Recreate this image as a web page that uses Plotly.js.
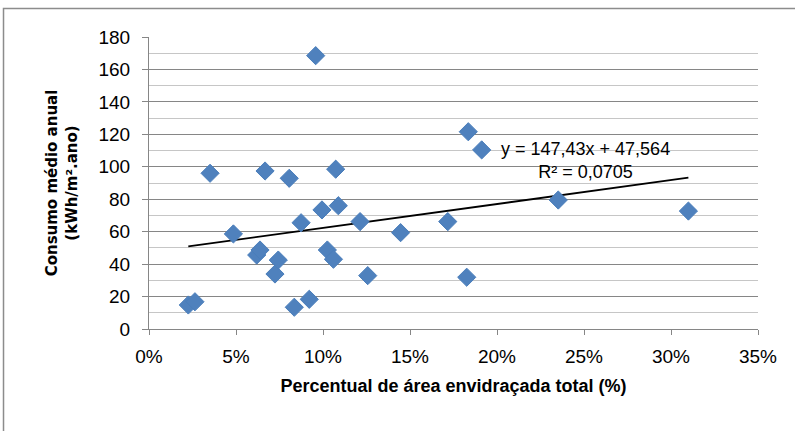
<!DOCTYPE html>
<html>
<head>
<meta charset="utf-8">
<script src="https://cdn.plot.ly/plotly-3.0.1.min.js"></script>
<style>html,body{margin:0;padding:0;background:#fff;}#chart{width:795px;height:431px;}</style>
</head>
<body>
<div id="chart"></div>
<script>
// Percentual de área envidraçada total (fraction)
const areaEnvidracada = [0.0226, 0.0264, 0.0351, 0.0485, 0.0619, 0.0638, 0.0667, 0.0724, 0.0743, 0.0806,
  0.0835, 0.0874, 0.0921, 0.0958, 0.0994, 0.1025, 0.1060, 0.1073, 0.1088, 0.1213,
  0.1257, 0.1446, 0.1717, 0.1835, 0.1826, 0.1912, 0.2352, 0.3100];
// Consumo médio anual (kWh/m².ano)
const consumoAnual = [14.8, 16.8, 96.0, 58.6, 45.6, 48.7, 97.4, 33.9, 42.5, 92.9,
  13.4, 65.5, 18.3, 168.5, 73.4, 48.7, 43.0, 98.5, 76.0, 66.2,
  32.9, 59.4, 66.2, 121.6, 31.9, 110.4, 79.5, 72.7];
// Linear trendline printed on the chart
const trendSlope = 147.43;
const trendIntercept = 47.564;
const trendLabel = "y = 147,43x + 47,564<br>R² = 0,0705";

const xMin = Math.min(...areaEnvidracada);
const xMax = Math.max(...areaEnvidracada);
const trendX = [xMin, xMax];
const trendY = trendX.map(v => trendSlope * v + trendIntercept);

const tickFont = {family: 'Liberation Sans, Arial, sans-serif', size: 19, color: '#000'};

const data = [
  {
    type: 'scatter', mode: 'lines', x: trendX, y: trendY,
    line: {color: '#000', width: 1.8}, hoverinfo: 'skip', showlegend: false
  },
  {
    type: 'scatter', mode: 'markers', x: areaEnvidracada, y: consumoAnual,
    marker: {symbol: 'diamond', size: 14, color: '#4F81BD', line: {color: '#4A7EBB', width: 1}},
    showlegend: false
  }
];

const layout = {
  width: 795, height: 431,
  margin: {l: 149, r: 37, t: 37, b: 102},
  paper_bgcolor: '#fff', plot_bgcolor: '#fff',
  font: tickFont,
  xaxis: {
    range: [0, 0.35], dtick: 0.05, tick0: 0, tickformat: '.0%',
    showgrid: false, zeroline: false,
    showline: true, linecolor: '#868686', linewidth: 1,
    ticks: 'outside', ticklen: 5, tickcolor: '#868686', tickwidth: 1,
    ticklabelstandoff: 5,
    tickfont: tickFont,
    title: {text: 'Percentual de área envidraçada total (%)', font: {family: 'Liberation Sans, Arial, sans-serif', size: 18, color: '#000', weight: 'bold'}, standoff: 13}
  },
  yaxis: {
    range: [0, 180], dtick: 20, tick0: 0,
    showgrid: true, gridcolor: '#868686', gridwidth: 1,
    minor: {dtick: 10, showgrid: true, gridcolor: '#C6C6C6', gridwidth: 1, ticks: ''},
    zeroline: false,
    showline: true, linecolor: '#868686', linewidth: 1,
    ticks: 'outside', ticklen: 6, tickcolor: '#868686', tickwidth: 1,
    ticklabelstandoff: 8,
    tickfont: tickFont,
    title: {text: 'Consumo médio anual<br>(kWh/m².ano)', font: {family: 'DejaVu Sans, Verdana, sans-serif', size: 15, color: '#000', weight: 'bold'}, standoff: 17}
  },
  annotations: [
    {
      xref: 'x', yref: 'y', x: 0.2506, y: 103.8, text: trendLabel, showarrow: false,
      align: 'center', xanchor: 'center', yanchor: 'middle',
      font: {family: 'Liberation Sans, Arial, sans-serif', size: 18, color: '#000'}
    }
  ],
  shapes: [
    {type: 'rect', xref: 'paper', yref: 'paper', x0: -0.2389, x1: 1.07, y0: -0.38, y1: 1.098,
     line: {color: '#8C8C8C', width: 1.5}, fillcolor: 'rgba(0,0,0,0)', layer: 'below'}
  ]
};

Plotly.newPlot('chart', data, layout, {displayModeBar: false, staticPlot: true});
</script>
</body>
</html>
